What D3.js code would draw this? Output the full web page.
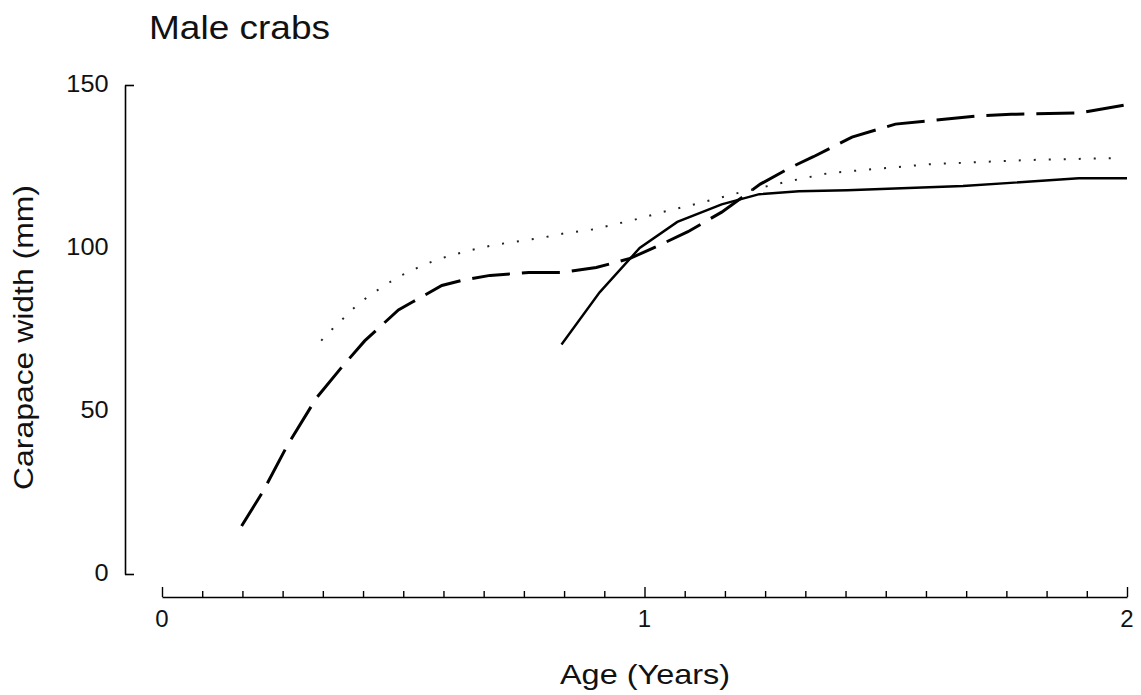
<!DOCTYPE html>
<html>
<head>
<meta charset="utf-8">
<script src="https://cdn.jsdelivr.net/npm/d3@7"></script>
<style>
  body { margin: 0; background: #fff; }
  text { font-family: "Liberation Sans", Arial, sans-serif; fill: #111; }
</style>
</head>
<body>
<div class="canva"></div>
<script>
// data (age in years, width in mm)
const dashedAge = [0.165, 0.21, 0.26, 0.32, 0.37, 0.42, 0.49, 0.52, 0.58, 0.62, 0.68, 0.76, 0.83, 0.9, 0.97, 1.03, 1.09, 1.16, 1.24, 1.3, 1.35, 1.43, 1.52, 1.59, 1.69, 1.76, 1.9, 2.0]
const dashedVal = [14.7, 25.5, 39.5, 54, 63, 71.5, 81, 83.5, 88.5, 90, 91.6, 92.5, 92.5, 94, 96.8, 100.8, 105, 111, 119.6, 124.5, 128, 134, 138, 139, 140.5, 141, 141.4, 144]

const solidAge = [0.828, 0.907, 0.99, 1.068, 1.16, 1.238, 1.32, 1.42, 1.66, 1.9, 2.0]
const solidVal = [70.4, 86.4, 100, 108, 113.4, 116.5, 117.4, 117.7, 119, 121.4, 121.4]

const dottedAge = [0.33, 0.35, 0.37, 0.39, 0.412, 0.43, 0.472, 0.49, 0.511, 0.53, 0.571, 0.63, 0.69, 0.735, 0.793, 0.834, 0.892, 0.975, 1.037, 1.12, 1.197, 1.3, 1.383, 1.59, 1.797, 1.98]
const dottedVal = [71.6, 74.7, 77.5, 80.6, 83.3, 85.5, 89.5, 91.3, 92.5, 94, 96.5, 99, 101, 102, 103.3, 104.5, 105.7, 108.5, 111, 114, 117, 120.5, 123, 125.7, 127, 127.6]

const yTicks = [0, 50, 100, 150]
const xMajor = [0, 1, 2]
const xMinor = d3.range(0, 25).map(i => i / 12)

const svg = d3.select(".canva").append("svg")
  .attr("width", 1141).attr("height", 695)

const x = d3.scaleLinear().domain([0, 2]).range([162, 1127])
const y = d3.scaleLinear().domain([0, 150]).range([574, 85])

// y axis, ticks pointing inward
const yAxis = svg.append("g")
  .attr("transform", "translate(125,0)")
  .call(d3.axisLeft(y).tickValues(yTicks).tickSizeInner(-9).tickSizeOuter(0).tickPadding(15))
yAxis.select(".domain").attr("stroke-width", 1.6)
yAxis.selectAll(".tick line").attr("stroke-width", 1.6)
  .filter(d => d != 0 && d != 150).remove()
yAxis.selectAll(".tick text").attr("font-size", 23).attr("font-family", "Liberation Sans, Arial")
  .attr("fill", "#111").attr("dy", "0.3em").attr("transform", "scale(1.1,1)")

// x axis: monthly minor ticks, major at whole years
const xAxis = svg.append("g").attr("transform", "translate(0,597)")
xAxis.call(d3.axisBottom(x).tickValues(xMinor).tickSizeInner(-6).tickSizeOuter(0).tickFormat(""))
xAxis.select(".domain").attr("stroke-width", 1.6)
xAxis.selectAll(".tick line").attr("stroke-width", 1.4)
  .filter(d => Math.abs(d - Math.round(d)) < 1e-6).attr("y2", -10)

xAxis.selectAll(".major").data(xMajor).enter().append("text")
  .attr("x", d => x(d)).attr("y", 30)
  .attr("text-anchor", "middle").attr("font-size", 24)
  .text(d => d)

const line = d3.line().x(d => x(d[0])).y(d => y(d[1]))

svg.append("path").datum(d3.zip(dashedAge, dashedVal))
  .attr("d", line).attr("fill", "none").attr("stroke", "#000")
  .attr("stroke-width", 3).attr("stroke-dasharray", "38,12")

svg.append("path").datum(d3.zip(solidAge, solidVal))
  .attr("d", line).attr("fill", "none").attr("stroke", "#000")
  .attr("stroke-width", 2.4)

svg.append("path").datum(d3.zip(dottedAge, dottedVal))
  .attr("d", line).attr("fill", "none").attr("stroke", "#222")
  .attr("stroke-width", 2).attr("stroke-dasharray", "2,13")

// titles
svg.append("text").text("Male crabs")
  .attr("x", 149).attr("y", 39).attr("font-size", 33)
  .attr("textLength", 181).attr("lengthAdjust", "spacingAndGlyphs")

svg.append("text").text("Age (Years)")
  .attr("x", 560).attr("y", 684).attr("font-size", 28)
  .attr("textLength", 170).attr("lengthAdjust", "spacingAndGlyphs")

svg.append("text").text("Carapace width (mm)")
  .attr("transform", "translate(33,490) rotate(-90)")
  .attr("font-size", 27)
  .attr("textLength", 305).attr("lengthAdjust", "spacingAndGlyphs")
</script>
</body>
</html>
